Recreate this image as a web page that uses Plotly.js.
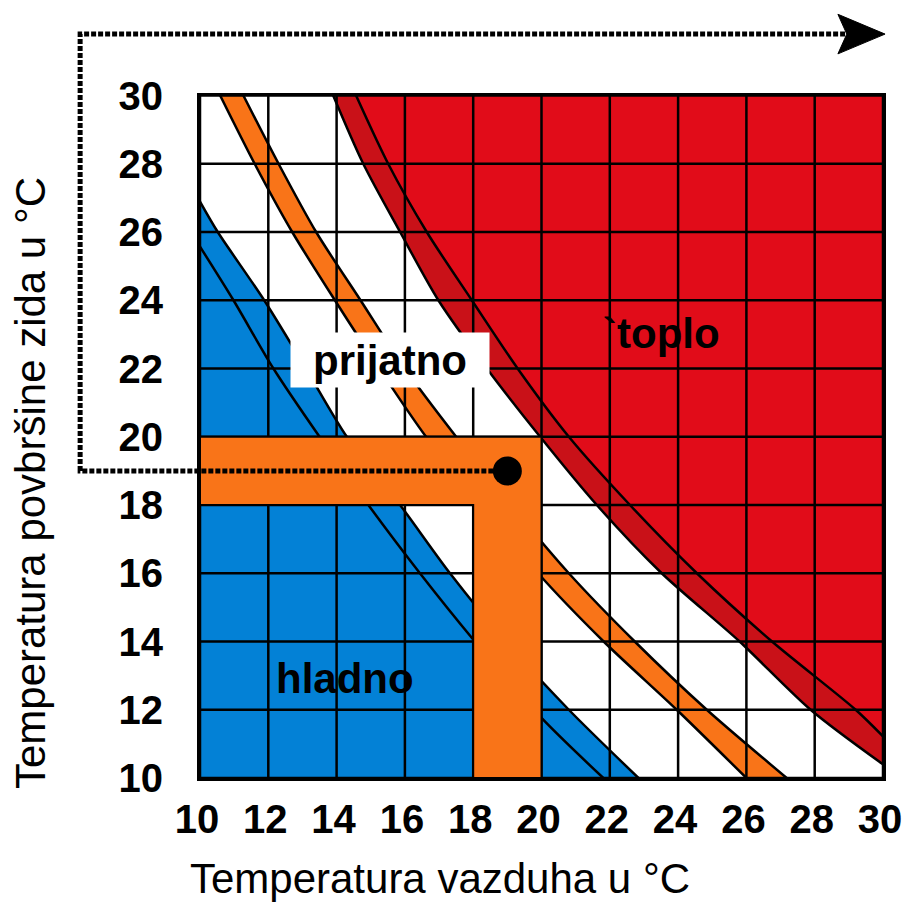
<!DOCTYPE html>
<html><head><meta charset="utf-8">
<script src="https://cdn.plot.ly/plotly-3.0.1.min.js"></script>
<style>html,body{margin:0;padding:0;background:#fff}</style>
</head><body><div id="chart" style="width:903px;height:902px"></div>
<script>
// ---- data ----
const axisTicks = [10, 12, 14, 16, 18, 20, 22, 24, 26, 28, 30];
const wallLevels = [30, 28, 26, 24, 22, 20, 18, 16, 14, 12, 10];

// cold zone ("hladno"): outer edge and inner line
const coldOuterAir  = [10, 10.52, 11.88, 13.1, 14.3, 15.86, 17.32, 18.95, 20.8, 22.84];
const coldOuterWall = [26.89, 26, 24, 22, 20, 18, 16, 14, 12, 10];
const coldInnerAir  = [10, 10.98, 12.15, 13.5, 14.93, 16.44, 18.0, 20.0, 21.81];
const coldInnerWall = [25.57, 24, 22, 20, 18, 16, 14.06, 11.76, 10];

// optimum band (orange), at wallLevels
const optLowAir  = [10.59, 11.6, 12.7, 13.95, 15.25, 16.62, 18.25, 19.9, 21.82, 23.96, 26.0];
const optHighAir = [11.27, 12.3, 13.4, 14.7, 16.0, 17.5, 19.1, 20.8, 22.73, 24.84, 27.18];

// warm zone ("toplo"): limit band edges
const warmLowAir   = [13.9, 14.78, 15.86, 16.98, 18.4, 19.96, 21.62, 23.52, 25.8, 27.88, 30];
const warmLowWall  = [30, 28, 26, 24, 22, 20, 18, 16, 14, 12, 10.4];
const warmHighAir  = [14.57, 15.51, 16.64, 17.96, 19.3, 20.8, 22.59, 24.55, 26.75, 29.2, 30];
const warmHighWall = [30, 28, 26, 24, 22, 20, 18, 16, 14, 12, 11.22];

// comfort range and reading
const comfortAir  = [18, 20];
const comfortWall = [18, 20];
const readingAir = 19, readingWall = 19;
const pathAir  = [19, 6.49, 6.49, 30.06];
const pathWall = [19, 19, 31.8, 31.8];

const labels = ['prijatno', 'hladno', '`toplo'];
const labelAir  = [15.55, 14.25, 23.5];
const labelWall = [22.24, 12.93, 23.03];
const xTitle = 'Temperatura vazduha u °C';
const yTitle = 'Temperatura povbršine zida u °C';

// ---- styles ----
const BLUE = '#0381D6', ORANGE = '#F97418', RED = '#E10C19', DARKRED = '#C91118';
const FONT = 'Liberation Sans, Arial, sans-serif';
const W = 903, H = 902;
const xDom = [200 / W, 883 / W];
const yDom = [(H - 778) / H, (H - 95.5) / H];
const xmin = axisTicks[0], xmax = axisTicks[axisTicks.length - 1];
const ymin = xmin, ymax = xmax;
const span = xmax - xmin;
const x2Range = [xmin - span * xDom[0] / (xDom[1] - xDom[0]), xmax + span * (1 - xDom[1]) / (xDom[1] - xDom[0])];
const y2Range = [ymin - span * yDom[0] / (yDom[1] - yDom[0]), ymax + span * (1 - yDom[1]) / (yDom[1] - yDom[0])];

const rev = a => a.slice().reverse();
const noLine = {width: 0, color: 'rgba(0,0,0,0)'};
const traces = [];

// filled zones
traces.push({x: coldOuterAir.concat([xmin]), y: coldOuterWall.concat([ymin]), fill: 'toself', fillcolor: BLUE, line: noLine, mode: 'lines', hoverinfo: 'skip'});
traces.push({x: warmLowAir.concat([xmax]), y: warmLowWall.concat([ymax]), fill: 'toself', fillcolor: DARKRED, line: noLine, mode: 'lines', hoverinfo: 'skip'});
traces.push({x: warmHighAir.concat([xmax]), y: warmHighWall.concat([ymax]), fill: 'toself', fillcolor: RED, line: noLine, mode: 'lines', hoverinfo: 'skip'});
traces.push({x: optLowAir.concat(rev(optHighAir)), y: wallLevels.concat(rev(wallLevels)), fill: 'toself', fillcolor: ORANGE, line: noLine, mode: 'lines', hoverinfo: 'skip'});

// boundary lines (smoothed by the library)
const curves = [[coldOuterAir, coldOuterWall], [coldInnerAir, coldInnerWall], [optLowAir, wallLevels], [optHighAir, wallLevels], [warmLowAir, warmLowWall], [warmHighAir, warmHighWall]];
curves.forEach(([a, b]) => {
  traces.push({x: a, y: b, mode: 'lines', line: {color: '#000', width: 2.5, shape: 'spline', smoothing: 0.8}, hoverinfo: 'skip'});
});

// grid
let gx = [], gy = [];
axisTicks.forEach(v => { gx.push(v, v, null); gy.push(ymin, ymax, null); gx.push(xmin, xmax, null); gy.push(v, v, null); });
traces.push({x: gx, y: gy, mode: 'lines', line: {color: '#000', width: 2.5}, hoverinfo: 'skip'});

// comfort L bar
traces.push({
  x: [xmin, xmin, comfortAir[1], comfortAir[1], comfortAir[0], comfortAir[0], xmin],
  y: [comfortWall[0], comfortWall[1], comfortWall[1], ymin, ymin, comfortWall[0], comfortWall[0]],
  fill: 'toself', fillcolor: ORANGE, mode: 'lines', line: {color: '#000', width: 2}, hoverinfo: 'skip'
});

// reading path (dotted) with arrow
const arrowLen = 1.38, arrowHalf = 0.58, notch = 0.26;
const n = pathAir.length;
const tipX = pathAir[n - 1], tipY = pathWall[n - 1];
const dpx = pathAir.slice(0, n - 1).concat([tipX - arrowLen + notch]);
traces.push({x: dpx, y: pathWall, xaxis: 'x2', yaxis: 'y2', mode: 'lines', line: {color: '#000', width: 5, dash: '5px,2px'}, hoverinfo: 'skip'});
traces.push({
  x: [tipX, tipX - arrowLen, tipX - arrowLen + notch, tipX - arrowLen, tipX],
  y: [tipY, tipY + arrowHalf, tipY, tipY - arrowHalf, tipY],
  xaxis: 'x2', yaxis: 'y2', fill: 'toself', fillcolor: '#000', mode: 'lines', line: {color: '#000', width: 1}, hoverinfo: 'skip'
});
traces.push({x: [readingAir], y: [readingWall], mode: 'markers', marker: {color: '#000', size: 29}, cliponaxis: false, hoverinfo: 'skip'});
// carrier traces for the title axes
traces.push({x: [], y: [], xaxis: 'x3', yaxis: 'y', hoverinfo: 'skip', showlegend: false});
traces.push({x: [], y: [], xaxis: 'x', yaxis: 'y3', hoverinfo: 'skip', showlegend: false});

const annotations = labels.map((t, i) => ({
  x: labelAir[i], y: labelWall[i], xref: 'x', yref: 'y', text: t, showarrow: false,
  font: {family: FONT, size: 42, color: '#000', weight: 'bold'}
}));
annotations[0].bgcolor = '#fff';
annotations[0].width = 198;
annotations[0].height = 54;
annotations[0].borderpad = 0;

const tickFont = {family: FONT, size: 40, color: '#000', weight: 'bold'};
const titleFont = {family: FONT, size: 42, color: '#000'};
const hidden = {showgrid: false, zeroline: false, showline: false, showticklabels: false, ticks: '', fixedrange: true, automargin: false};

const layout = {
  width: W, height: H,
  margin: {l: 0, r: 0, t: 0, b: 0},
  paper_bgcolor: '#fff', plot_bgcolor: 'rgba(0,0,0,0)',
  showlegend: false,
  font: {family: FONT, color: '#000'},
  xaxis: {
    domain: xDom, range: [xmin, xmax], anchor: 'y', automargin: false,
    tickvals: axisTicks, ticktext: axisTicks.map(String), ticks: '', ticklabeloverflow: 'allow',
    showgrid: false, zeroline: false, showline: true, mirror: true, linecolor: '#000', linewidth: 3,
    tickfont: tickFont, ticklabelstandoff: 4, ticklabelshift: -3, fixedrange: true
  },
  yaxis: {
    domain: yDom, range: [ymin, ymax], anchor: 'x', automargin: false,
    tickvals: axisTicks, ticktext: axisTicks.map(String), ticks: '', ticklabeloverflow: 'allow',
    showgrid: false, zeroline: false, showline: true, mirror: true, linecolor: '#000', linewidth: 3,
    tickfont: tickFont, ticklabelstandoff: 26, fixedrange: true
  },
  xaxis2: {domain: [0, 1], range: x2Range, anchor: 'y2', visible: false, fixedrange: true},
  yaxis2: {domain: [0, 1], range: y2Range, anchor: 'x2', visible: false, fixedrange: true},
  xaxis3: Object.assign({domain: [0.1, 0.8745], range: [0, 1], anchor: 'y',
    title: {text: xTitle, font: titleFont, standoff: 86}}, hidden),
  yaxis3: Object.assign({domain: [0.1, 0.829], range: [0, 1], anchor: 'x',
    title: {text: yTitle, font: titleFont, standoff: 140}}, hidden),
  annotations: annotations
};

Plotly.newPlot('chart', traces, layout, {staticPlot: true, displayModeBar: false});
</script>
</body></html>
